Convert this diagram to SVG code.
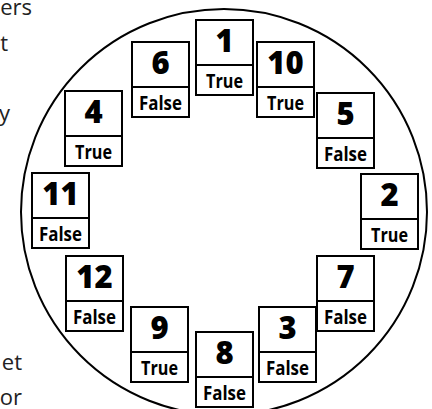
<svg xmlns="http://www.w3.org/2000/svg" width="432" height="409" viewBox="0 0 432 409">
<style>
.bx{fill:#fff;stroke:#000;stroke-width:2}
.dv{stroke:#000;stroke-width:2}
.num{font-family:"Open Sans","DejaVu Sans",sans-serif;font-weight:800;font-size:31px;text-anchor:middle;fill:#000}
.lab{font-family:"Open Sans","DejaVu Sans",sans-serif;font-weight:700;font-size:20px;text-anchor:middle;fill:#000}
.para{font-family:"Open Sans","DejaVu Sans",sans-serif;font-size:22px;text-anchor:end;fill:#222}
</style>
<defs>
<g id="box">
<rect class="bx" x="0" y="0" width="57" height="75"/>
<line class="dv" x1="0" y1="45" x2="57" y2="45"/>
</g>
</defs>
<g id="paragraph">
<text class="para" x="32" y="15">ers</text>
<text class="para" x="8" y="51">t</text>
<text class="para" x="10" y="121">y</text>
<text class="para" x="22" y="370">et</text>
<text class="para" x="22" y="405">or</text>
</g>
<g id="connectors">
<circle cx="224" cy="212" r="203" fill="none" stroke="#000" stroke-width="2"/>
</g>
<g id="n1" transform="translate(196,20)"><use href="#box"/><text class="num" x="28.5" y="32">1</text><text class="lab" x="28.5" y="68" textLength="37" lengthAdjust="spacingAndGlyphs">True</text></g>
<g id="n10" transform="translate(257,42)"><use href="#box"/><text class="num" x="28.5" y="32">10</text><text class="lab" x="28.5" y="68" textLength="37" lengthAdjust="spacingAndGlyphs">True</text></g>
<g id="n6" transform="translate(132,42)"><use href="#box"/><text class="num" x="28.5" y="32">6</text><text class="lab" x="28.5" y="68" textLength="43" lengthAdjust="spacingAndGlyphs">False</text></g>
<g id="n5" transform="translate(317,93)"><use href="#box"/><text class="num" x="28.5" y="32">5</text><text class="lab" x="28.5" y="68" textLength="43" lengthAdjust="spacingAndGlyphs">False</text></g>
<g id="n4" transform="translate(65,91)"><use href="#box"/><text class="num" x="28.5" y="32">4</text><text class="lab" x="28.5" y="68" textLength="37" lengthAdjust="spacingAndGlyphs">True</text></g>
<g id="n2" transform="translate(361,174)"><use href="#box"/><text class="num" x="28.5" y="32">2</text><text class="lab" x="28.5" y="68" textLength="37" lengthAdjust="spacingAndGlyphs">True</text></g>
<g id="n11" transform="translate(32,173)"><use href="#box"/><text class="num" x="28.5" y="32">11</text><text class="lab" x="28.5" y="68" textLength="43" lengthAdjust="spacingAndGlyphs">False</text></g>
<g id="n7" transform="translate(317,256)"><use href="#box"/><text class="num" x="28.5" y="32">7</text><text class="lab" x="28.5" y="68" textLength="43" lengthAdjust="spacingAndGlyphs">False</text></g>
<g id="n12" transform="translate(66,256)"><use href="#box"/><text class="num" x="28.5" y="32">12</text><text class="lab" x="28.5" y="68" textLength="43" lengthAdjust="spacingAndGlyphs">False</text></g>
<g id="n3" transform="translate(259,307)"><use href="#box"/><text class="num" x="28.5" y="32">3</text><text class="lab" x="28.5" y="68" textLength="43" lengthAdjust="spacingAndGlyphs">False</text></g>
<g id="n9" transform="translate(131,307)"><use href="#box"/><text class="num" x="28.5" y="32">9</text><text class="lab" x="28.5" y="68" textLength="37" lengthAdjust="spacingAndGlyphs">True</text></g>
<g id="n8" transform="translate(196,332)"><use href="#box"/><text class="num" x="28.5" y="32">8</text><text class="lab" x="28.5" y="68" textLength="43" lengthAdjust="spacingAndGlyphs">False</text></g>
</svg>
